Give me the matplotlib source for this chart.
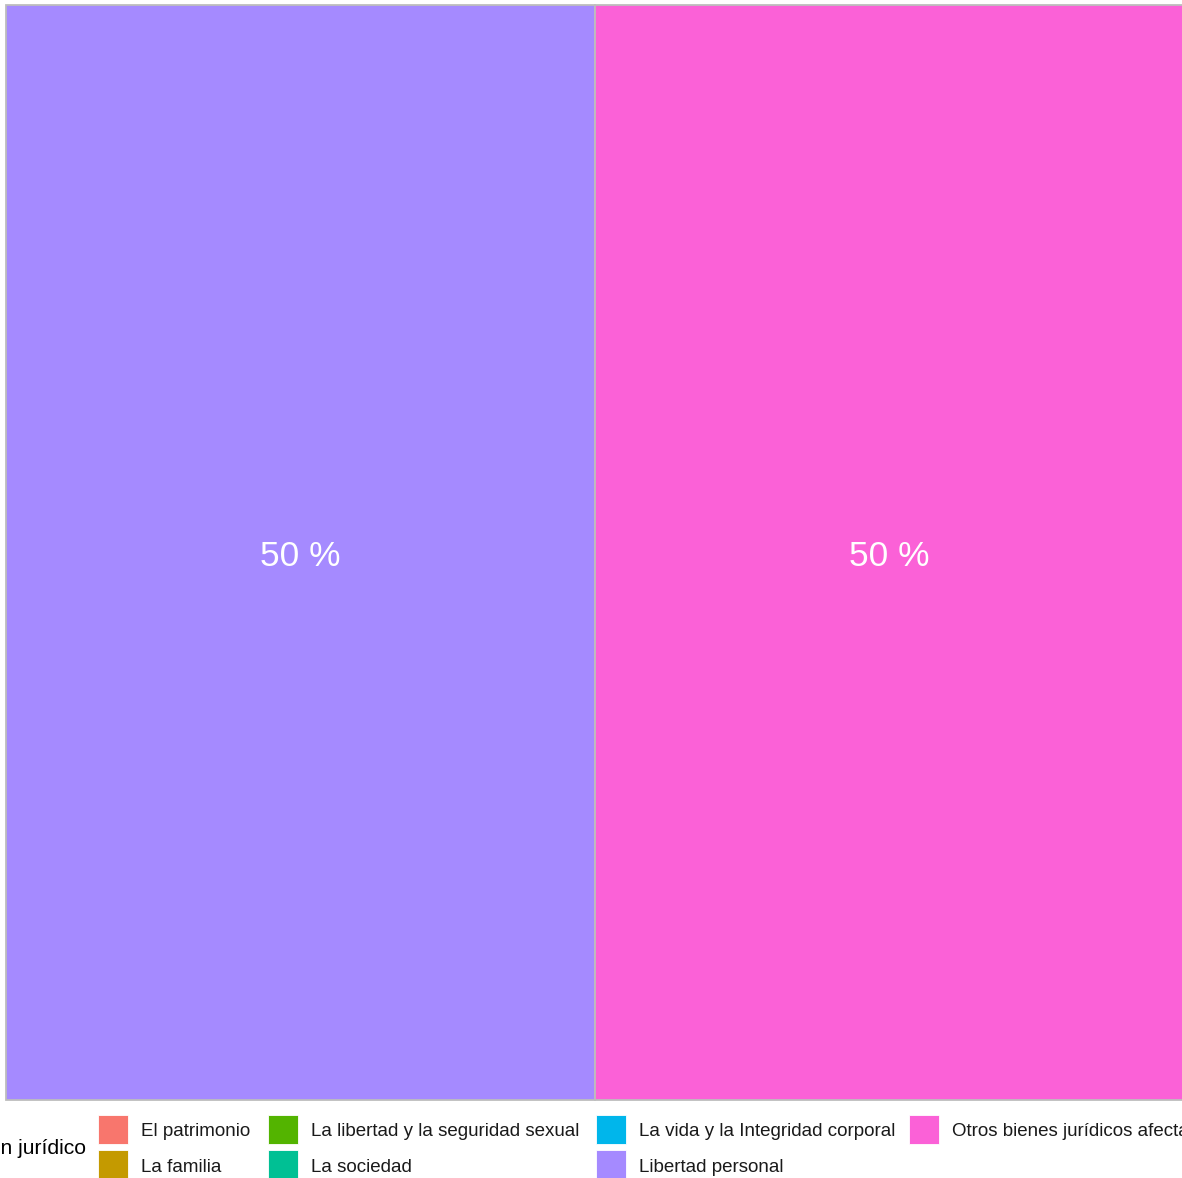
import matplotlib

matplotlib.use("Agg")
import matplotlib.pyplot as plt
from matplotlib.patches import Rectangle

plt.rcParams["font.family"] = ["Liberation Sans", "DejaVu Sans"]

# data
categories = [
    "El patrimonio",
    "La familia",
    "La libertad y la seguridad sexual",
    "La sociedad",
    "La vida y la Integridad corporal",
    "Libertad personal",
    "Otros bienes jurídicos afectados",
]
values = [0, 0, 0, 0, 0, 1, 1]
colors = ["#F8766D", "#C49A00", "#53B400", "#00C094", "#00B6EB", "#A58AFF", "#FB61D7"]
legend_title = "Bien jurídico"

W, H = 1182, 1178
fig = plt.figure(figsize=(W / 100, H / 100), dpi=100)
fig.patch.set_facecolor("white")


def fx(px):
    return px / W


def fy(py):
    return 1 - py / H


# treemap panel (slightly wider than the figure, right side gets clipped)
left_px, right_px, top_px, bottom_px = 6, 1184, 5, 1100
ax = fig.add_axes([fx(left_px), fy(bottom_px), fx(right_px - left_px), (bottom_px - top_px) / H])
ax.set_xlim(0, 1)
ax.set_ylim(0, 1)
ax.axis("off")

total = sum(values)
x0 = 0.0
for cat, val, col in zip(categories, values, colors):
    if val <= 0:
        continue
    w = val / total
    ax.add_patch(Rectangle((x0, 0), w, 1, facecolor=col, edgecolor="#BDBDBD",
                           linewidth=1.3, clip_on=False))
    ax.text(x0 + w / 2, 0.496, f"{round(val / total * 100)} %", ha="center", va="center",
            color="white", fontsize=25.5)
    x0 += w

# legend, 2 rows, column-major
col_keys = [98, 268, 596, 909]
row_centers = [1129, 1164]
key_w, key_h = 30, 29
fig.text(fx(86), fy(1149), legend_title, ha="right", va="center", fontsize=15.2, color="black")
for i, (cat, col) in enumerate(zip(categories, colors)):
    c, r = divmod(i, 2)
    kx = col_keys[c]
    cy = row_centers[r]
    fig.patches.append(Rectangle((fx(kx), fy(cy + key_h / 2)), fx(key_w), key_h / H,
                                 transform=fig.transFigure, facecolor=col,
                                 edgecolor="white", linewidth=0.6))
    fig.text(fx(kx + 43), fy(cy + 3), cat, ha="left", va="center", fontsize=13.5,
             color="#1A1A1A")

fig.savefig("out.png", dpi=100)
